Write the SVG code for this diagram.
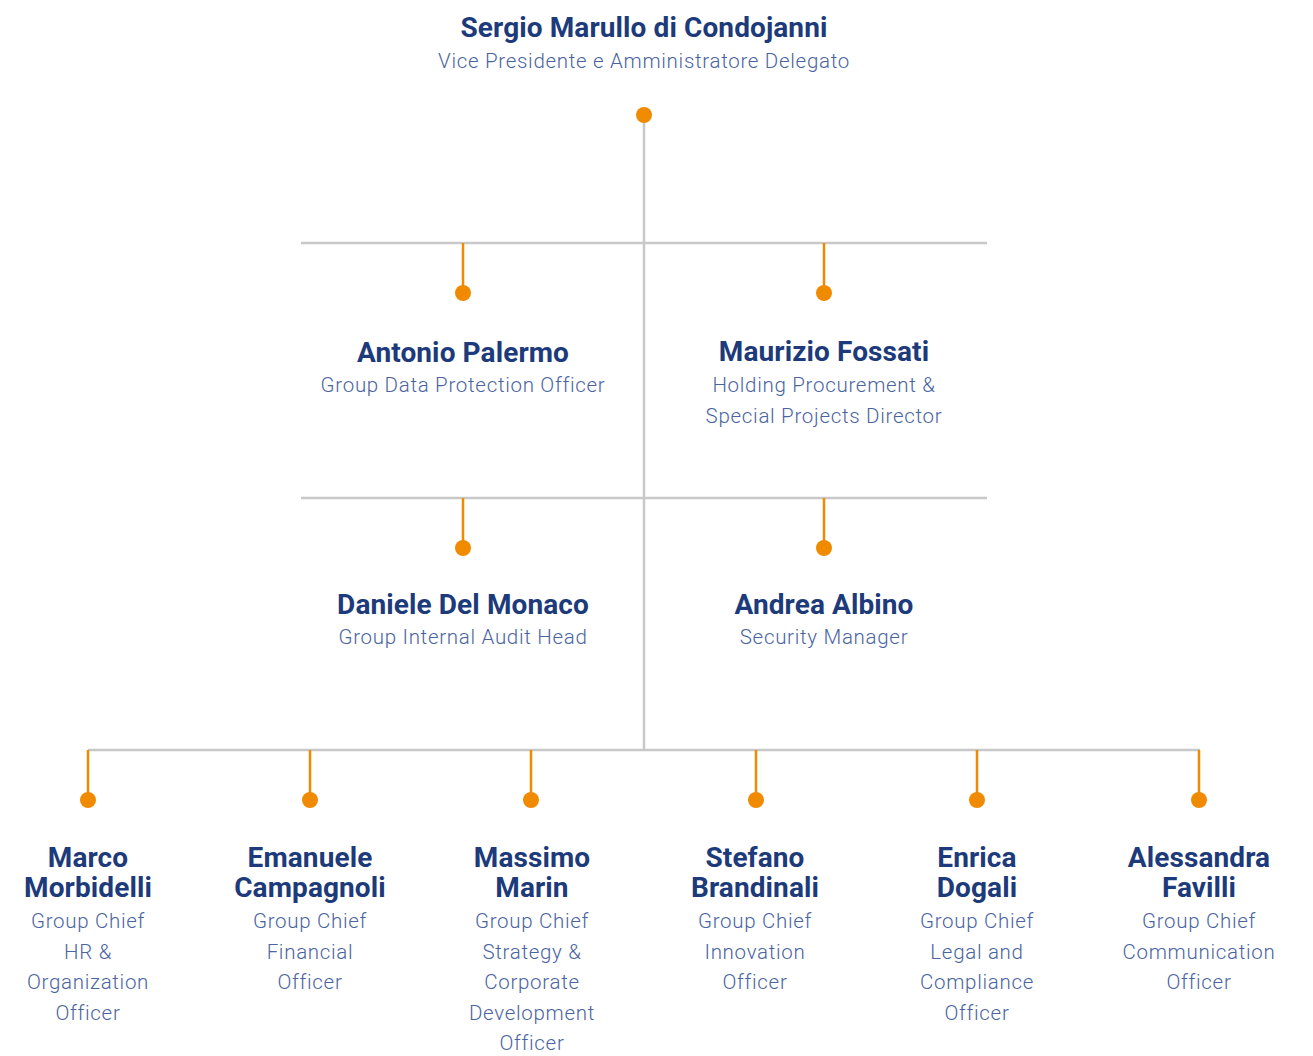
<svg xmlns="http://www.w3.org/2000/svg" width="1313" height="1056" viewBox="0 0 1313 1056">
<style>
.n{font-family:Roboto,"Liberation Sans",sans-serif;font-weight:700;font-size:28px;fill:#1d3a7a;text-anchor:middle;letter-spacing:0.1px}
.r{font-family:Roboto,"Liberation Sans",sans-serif;font-weight:300;font-size:20.5px;fill:#4a64a0;text-anchor:middle;letter-spacing:0.7px}
.g{stroke:#c8c8c8;stroke-width:2.5;fill:none}
.o{stroke:#f08a00;stroke-width:2.5;fill:none}
.d{fill:#f08a00}
</style>
<rect width="1313" height="1056" fill="#fff"/>
<g id="connectors">
<path class="g" d="M644 115V750M301 243H987M301 498H987M88 750H1200"/>
<path class="o" d="M463 243V293M824 243V293M463 498V548M824 498V548M88 750V800M310 750V800M531 750V800M756 750V800M977 750V800M1199 750V800"/>
<circle class="d" cx="644" cy="115" r="8"/>
<circle class="d" cx="463" cy="293" r="8"/>
<circle class="d" cx="824" cy="293" r="8"/>
<circle class="d" cx="463" cy="548" r="8"/>
<circle class="d" cx="824" cy="548" r="8"/>
<circle class="d" cx="88" cy="800" r="8"/>
<circle class="d" cx="310" cy="800" r="8"/>
<circle class="d" cx="531" cy="800" r="8"/>
<circle class="d" cx="756" cy="800" r="8"/>
<circle class="d" cx="977" cy="800" r="8"/>
<circle class="d" cx="1199" cy="800" r="8"/>
</g>
<g id="sergio"><text class="n" x="644" y="37">Sergio Marullo di Condojanni</text><text class="r" x="644" y="68">Vice Presidente e Amministratore Delegato</text></g>
<g id="antonio"><text class="n" x="463" y="362">Antonio Palermo</text><text class="r" x="463" y="392">Group Data Protection Officer</text></g>
<g id="maurizio"><text class="n" x="824" y="361">Maurizio Fossati</text><text class="r" x="824" y="392">Holding Procurement &amp;</text><text class="r" x="824" y="423">Special Projects Director</text></g>
<g id="daniele"><text class="n" x="463" y="614">Daniele Del Monaco</text><text class="r" x="463" y="644">Group Internal Audit Head</text></g>
<g id="andrea"><text class="n" x="824" y="614">Andrea Albino</text><text class="r" x="824" y="644">Security Manager</text></g>
<g id="marco"><text class="n" x="88" y="867">Marco</text><text class="n" x="88" y="897">Morbidelli</text><text class="r" x="88" y="928">Group Chief</text><text class="r" x="88" y="959">HR &amp;</text><text class="r" x="88" y="989">Organization</text><text class="r" x="88" y="1020">Officer</text></g>
<g id="emanuele"><text class="n" x="310" y="867">Emanuele</text><text class="n" x="310" y="897">Campagnoli</text><text class="r" x="310" y="928">Group Chief</text><text class="r" x="310" y="959">Financial</text><text class="r" x="310" y="989">Officer</text></g>
<g id="massimo"><text class="n" x="532" y="867">Massimo</text><text class="n" x="532" y="897">Marin</text><text class="r" x="532" y="928">Group Chief</text><text class="r" x="532" y="959">Strategy &amp;</text><text class="r" x="532" y="989">Corporate</text><text class="r" x="532" y="1020">Development</text><text class="r" x="532" y="1050">Officer</text></g>
<g id="stefano"><text class="n" x="755" y="867">Stefano</text><text class="n" x="755" y="897">Brandinali</text><text class="r" x="755" y="928">Group Chief</text><text class="r" x="755" y="959">Innovation</text><text class="r" x="755" y="989">Officer</text></g>
<g id="enrica"><text class="n" x="977" y="867">Enrica</text><text class="n" x="977" y="897">Dogali</text><text class="r" x="977" y="928">Group Chief</text><text class="r" x="977" y="959">Legal and</text><text class="r" x="977" y="989">Compliance</text><text class="r" x="977" y="1020">Officer</text></g>
<g id="alessandra"><text class="n" x="1199" y="867">Alessandra</text><text class="n" x="1199" y="897">Favilli</text><text class="r" x="1199" y="928">Group Chief</text><text class="r" x="1199" y="959">Communication</text><text class="r" x="1199" y="989">Officer</text></g>
</svg>
